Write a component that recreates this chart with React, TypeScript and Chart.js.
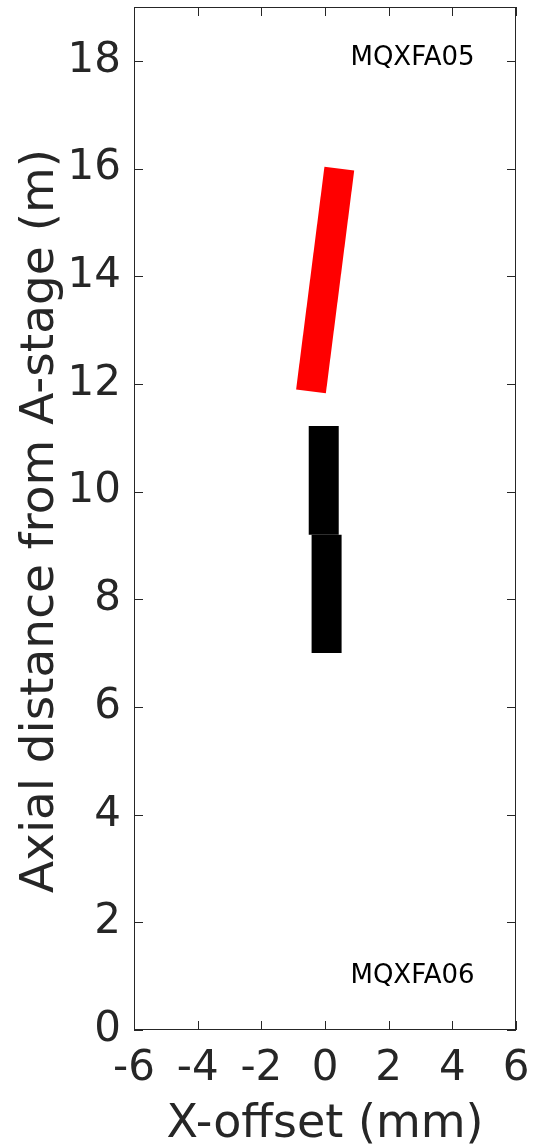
import React, { useEffect, useRef } from "react";
import { Chart, registerables } from "chart.js";

Chart.register(...registerables);

// Data
const redX = [-0.44, 0.45];
const redY = [11.86, 16.0];
const blackUpperX = [-0.04, -0.04];
const blackUpperY = [11.22, 9.2];
const blackLowerX = [0.05, 0.05];
const blackLowerY = [9.2, 7.0];

const xTickValues = [-6, -4, -2, 0, 2, 4, 6];
const yTickValues = [0, 2, 4, 6, 8, 10, 12, 14, 16, 18];
const annotations = [
  { text: "MQXFA05", x: 0.8, y: 18.05 },
  { text: "MQXFA06", x: 0.8, y: 1.0 },
];
const xTitle = "X-offset (mm)";
const yTitle = "Axial distance from A-stage (m)";

const FONT = "'DejaVu Sans', sans-serif";
const AXIS_COLOR = "#262626";

const toPts = (xs: number[], ys: number[]) => xs.map((x, i) => ({ x, y: ys[i] }));

const decorPlugin = {
  id: "decor",
  afterDraw(chart: any) {
    const { ctx, chartArea: a, scales } = chart;
    const xs = scales.x;
    const ys = scales.y;
    ctx.save();
    // annotations
    ctx.fillStyle = "#000";
    ctx.font = `26px ${FONT}`;
    ctx.textAlign = "left";
    ctx.textBaseline = "middle";
    annotations.forEach((an) => {
      ctx.fillText(an.text, xs.getPixelForValue(an.x), ys.getPixelForValue(an.y));
    });
    // box
    ctx.strokeStyle = AXIS_COLOR;
    ctx.lineWidth = 1;
    ctx.strokeRect(a.left + 0.5, a.top + 0.5, a.right - a.left - 1, a.bottom - a.top - 1);
    // inward ticks
    const tl = 9;
    ctx.beginPath();
    xTickValues.forEach((v) => {
      const px = Math.round(xs.getPixelForValue(v)) + 0.5;
      ctx.moveTo(px, a.bottom);
      ctx.lineTo(px, a.bottom - tl);
      ctx.moveTo(px, a.top);
      ctx.lineTo(px, a.top + tl);
    });
    yTickValues.forEach((v) => {
      const py = Math.round(ys.getPixelForValue(v)) + 0.5;
      ctx.moveTo(a.left, py);
      ctx.lineTo(a.left + tl, py);
      ctx.moveTo(a.right, py);
      ctx.lineTo(a.right - tl, py);
    });
    ctx.stroke();
    // titles
    ctx.fillStyle = AXIS_COLOR;
    ctx.font = `46px ${FONT}`;
    ctx.textAlign = "center";
    ctx.textBaseline = "alphabetic";
    ctx.fillText(xTitle, (a.left + a.right) / 2, 1137);
    ctx.save();
    ctx.font = `47px ${FONT}`;
    ctx.translate(53, 521);
    ctx.rotate(-Math.PI / 2);
    ctx.fillText(yTitle, 0, 0);
    ctx.restore();
    ctx.restore();
  },
};

export default function App() {
  const ref = useRef<HTMLCanvasElement | null>(null);
  useEffect(() => {
    if (!ref.current) return;
    const chart = new Chart(ref.current, {
      type: "line",
      data: {
        datasets: [
          {
            data: toPts(redX, redY),
            borderColor: "#ff0000",
            backgroundColor: "#ff0000",
            borderWidth: 30,
            borderCapStyle: "butt",
            pointRadius: 0,
            fill: false,
          },
          {
            data: toPts(blackUpperX, blackUpperY),
            borderColor: "#000000",
            backgroundColor: "#000000",
            borderWidth: 30,
            borderCapStyle: "butt",
            pointRadius: 0,
            fill: false,
          },
          {
            data: toPts(blackLowerX, blackLowerY),
            borderColor: "#000000",
            backgroundColor: "#000000",
            borderWidth: 30,
            borderCapStyle: "butt",
            pointRadius: 0,
            fill: false,
          },
        ],
      },
      options: {
        animation: false,
        responsive: false,
        maintainAspectRatio: false,
        layout: { padding: { top: 7, right: 17, left: 0, bottom: 0 } },
        plugins: { legend: { display: false }, tooltip: { enabled: false } },
        scales: {
          x: {
            type: "linear",
            min: -6,
            max: 6,
            afterFit: (s: any) => {
              s.height = 114;
              s.paddingLeft = 0;
              s.paddingRight = 0;
            },
            afterBuildTicks: (s: any) => {
              s.ticks = xTickValues.map((v) => ({ value: v }));
            },
            grid: { display: false, drawTicks: false },
            border: { display: false },
            ticks: {
              font: { family: FONT, size: 42 },
              color: AXIS_COLOR,
              padding: 14,
              maxRotation: 0,
              autoSkip: false,
            },
          },
          y: {
            type: "linear",
            min: 0,
            max: 19,
            afterFit: (s: any) => {
              s.width = 134;
              s.paddingTop = 0;
              s.paddingBottom = 0;
            },
            afterBuildTicks: (s: any) => {
              s.ticks = yTickValues.map((v) => ({ value: v }));
            },
            grid: { display: false, drawTicks: false },
            border: { display: false },
            ticks: {
              font: { family: FONT, size: 42 },
              color: AXIS_COLOR,
              padding: 13,
              autoSkip: false,
            },
          },
        },
      },
      plugins: [decorPlugin],
    });
    return () => chart.destroy();
  }, []);
  return (
    <div style={{ position: "absolute", left: 0, top: 0, width: 533, height: 1144, background: "#fff" }}>
      <canvas ref={ref} width={533} height={1144} style={{ width: 533, height: 1144 }} />
    </div>
  );
}
